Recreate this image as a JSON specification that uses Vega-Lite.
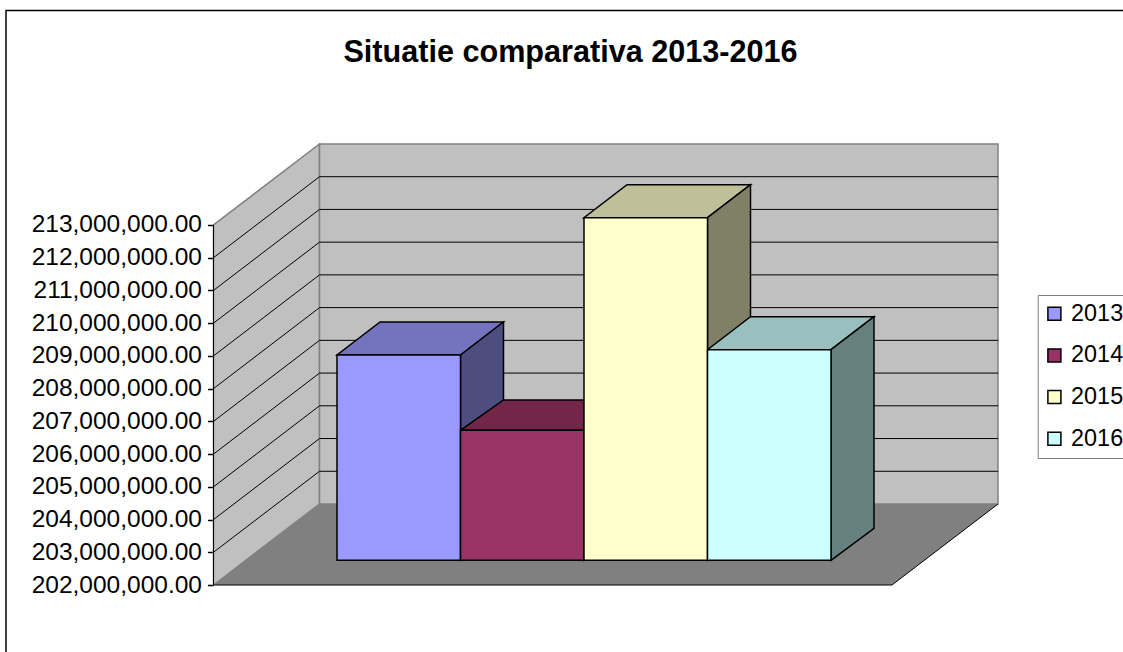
{"$schema":"https://vega.github.io/schema/vega-lite/v6.json","width":1123,"height":652,"padding":0,"autosize":{"type":"none"},"background":"white",
"title":{"text":"Situatie comparativa 2013-2016","font":"Liberation Sans","fontWeight":"bold","fontSize":30.6,"color":"black","anchor":"middle","frame":"group","dx":9,"dy":30,"offset":-63,"baseline":"alphabetic"},
"config":{"view":{"stroke":null},"axis":{"grid":false}},
"datasets":{
"frame":[{"x":-2.6802,"x2":6.4211,"y":219552700,"y2":199708500}],
"walls":[
{"surface":"side","x":-1,"y":202000000,"y2":213000000},
{"surface":"side","x":-0.1417,"y":204474800,"y2":215474800},
{"surface":"back","x":-0.1417,"y":204474800,"y2":215474800},
{"surface":"back","x":5.3522,"y":204474800,"y2":215474800}],
"floor":[
{"x":-1,"y":202000000,"y2":202000000},
{"x":-0.1417,"y":202000000,"y2":204474800},
{"x":4.4939,"y":202000000,"y2":204474800},
{"x":5.3522,"y":204474800,"y2":204474800}],
"lines":[
{"k":"203","x":-1,"y":203000000},{"k":"203","x":-0.1417,"y":205474800},{"k":"203","x":5.3522,"y":205474800},
{"k":"204","x":-1,"y":204000000},{"k":"204","x":-0.1417,"y":206474800},{"k":"204","x":5.3522,"y":206474800},
{"k":"205","x":-1,"y":205000000},{"k":"205","x":-0.1417,"y":207474800},{"k":"205","x":5.3522,"y":207474800},
{"k":"206","x":-1,"y":206000000},{"k":"206","x":-0.1417,"y":208474800},{"k":"206","x":5.3522,"y":208474800},
{"k":"207","x":-1,"y":207000000},{"k":"207","x":-0.1417,"y":209474800},{"k":"207","x":5.3522,"y":209474800},
{"k":"208","x":-1,"y":208000000},{"k":"208","x":-0.1417,"y":210474800},{"k":"208","x":5.3522,"y":210474800},
{"k":"209","x":-1,"y":209000000},{"k":"209","x":-0.1417,"y":211474800},{"k":"209","x":5.3522,"y":211474800},
{"k":"210","x":-1,"y":210000000},{"k":"210","x":-0.1417,"y":212474800},{"k":"210","x":5.3522,"y":212474800},
{"k":"211","x":-1,"y":211000000},{"k":"211","x":-0.1417,"y":213474800},{"k":"211","x":5.3522,"y":213474800},
{"k":"212","x":-1,"y":212000000},{"k":"212","x":-0.1417,"y":214474800},{"k":"212","x":5.3522,"y":214474800},
{"k":"floor","x":-1,"y":202000000},{"k":"floor","x":4.4939,"y":202000000},{"k":"floor","x":5.3522,"y":204474800},
{"k":"axis","x":-1,"y":202000000},{"k":"axis","x":-1,"y":213000000}],
"faces":[
{"face":"2013 top","x":0,"y":209027200,"y2":209027200},{"face":"2013 top","x":0.3482,"y":209027200,"y2":210035400},{"face":"2013 top","x":1,"y":209027200,"y2":210035400},{"face":"2013 top","x":1.3482,"y":210035400,"y2":210035400},
{"face":"2013 side","x":1,"y":202754700,"y2":209027200},{"face":"2013 side","x":1.3482,"y":203732300,"y2":210035400},
{"face":"2014 top","x":1,"y":206726600,"y2":206726600},{"face":"2014 top","x":1.3482,"y":206726600,"y2":207652300},{"face":"2014 top","x":2,"y":206726600,"y2":207652300},{"face":"2014 top","x":2.3482,"y":207652300,"y2":207652300},
{"face":"2014 side","x":2,"y":202754700,"y2":206726600},{"face":"2014 side","x":2.3482,"y":203732300,"y2":207652300},
{"face":"2015 top","x":2,"y":213222100,"y2":213222100},{"face":"2015 top","x":2.3482,"y":213222100,"y2":214230400},{"face":"2015 top","x":3,"y":213222100,"y2":214230400},{"face":"2015 top","x":3.3482,"y":214230400,"y2":214230400},
{"face":"2015 side","x":3,"y":202754700,"y2":213222100},{"face":"2015 side","x":3.3482,"y":203732300,"y2":214230400},
{"face":"2016 top","x":3,"y":209189100,"y2":209189100},{"face":"2016 top","x":3.3482,"y":209189100,"y2":210197300},{"face":"2016 top","x":4,"y":209189100,"y2":210197300},{"face":"2016 top","x":4.3482,"y":210197300,"y2":210197300},
{"face":"2016 side","x":4,"y":202754700,"y2":209189100},{"face":"2016 side","x":4.3482,"y":203732300,"y2":210197300}],
"bars":[
{"year":"2013","start":0,"end":1,"value":209027200,"base":202754700},
{"year":"2014","start":1,"end":2,"value":206726600,"base":202754700},
{"year":"2015","start":2,"end":3,"value":213222100,"base":202754700},
{"year":"2016","start":3,"end":4,"value":209189100,"base":202754700}]
},
"layer":[
{"data":{"name":"frame"},"mark":{"type":"rect","fill":null,"stroke":"black","strokeWidth":1.5,"clip":false},
"encoding":{
"x":{"field":"x","type":"quantitative","axis":null,"scale":{"domain":[-2.72874,6.36437],"range":[0,1123],"nice":false,"zero":false}},
"x2":{"field":"x2"},
"y":{"field":"y","type":"quantitative","title":null,"scale":{"domain":[199953000,219873500],"range":[652,0],"nice":false,"zero":false},
"axis":{"offset":-213.5,"values":[202000000,203000000,204000000,205000000,206000000,207000000,208000000,209000000,210000000,211000000,212000000,213000000],"format":",.2f","domain":false,"grid":false,"ticks":true,"tickSize":6,"tickWidth":1.5,"tickColor":"black","labelFont":"Liberation Sans","labelFontSize":24.5,"labelColor":"black","labelPadding":6,"labelOverlap":false,"labelFlush":false}},
"y2":{"field":"y2"}}},
{"data":{"name":"walls"},"mark":{"type":"area","fill":"#c0c0c0","stroke":"#808080","strokeWidth":1.5,"opacity":1},
"encoding":{"detail":{"field":"surface"},"x":{"field":"x","type":"quantitative"},"y":{"field":"y","type":"quantitative","stack":null},"y2":{"field":"y2"}}},
{"data":{"name":"floor"},"mark":{"type":"area","fill":"#808080","opacity":1},
"encoding":{"x":{"field":"x","type":"quantitative"},"y":{"field":"y","type":"quantitative","stack":null},"y2":{"field":"y2"}}},
{"data":{"name":"lines"},"mark":{"type":"line","color":"black","strokeWidth":1},
"encoding":{"detail":{"field":"k"},"x":{"field":"x","type":"quantitative"},"y":{"field":"y","type":"quantitative"},"order":{"field":"x"}}},
{"data":{"name":"faces"},"mark":{"type":"area","stroke":"black","strokeWidth":1.5,"opacity":1},
"encoding":{"x":{"field":"x","type":"quantitative"},"y":{"field":"y","type":"quantitative","stack":null},"y2":{"field":"y2"},
"fill":{"field":"face","type":"nominal","legend":null,"scale":{"domain":["2013 top","2013 side","2014 top","2014 side","2015 top","2015 side","2016 top","2016 side"],"range":["#7373bf","#4d4d80","#732649","#4d1933","#bfbf99","#808066","#99bfbf","#668080"]}}}},
{"data":{"name":"bars"},"mark":{"type":"bar","stroke":"black","strokeWidth":1.5,"opacity":1},
"encoding":{"x":{"field":"start","type":"quantitative"},"x2":{"field":"end"},"y":{"field":"value","type":"quantitative","stack":null},"y2":{"field":"base"},
"color":{"field":"year","type":"nominal","scale":{"domain":["2013","2014","2015","2016"],"range":["#9999ff","#993366","#ffffcc","#ccffff"]},
"legend":{"title":null,"orient":"none","legendX":1037.7,"legendY":295,"symbolType":"square","symbolSize":169,"symbolOffset":-2,"symbolStrokeColor":"black","symbolStrokeWidth":1.5,"symbolOpacity":1,"labelFont":"Liberation Sans","labelFontSize":23.4,"labelColor":"black","labelOffset":5,"rowPadding":16.7,"padding":7,"strokeColor":"#808080","fillColor":"white","labelLimit":100}}}}
]}
